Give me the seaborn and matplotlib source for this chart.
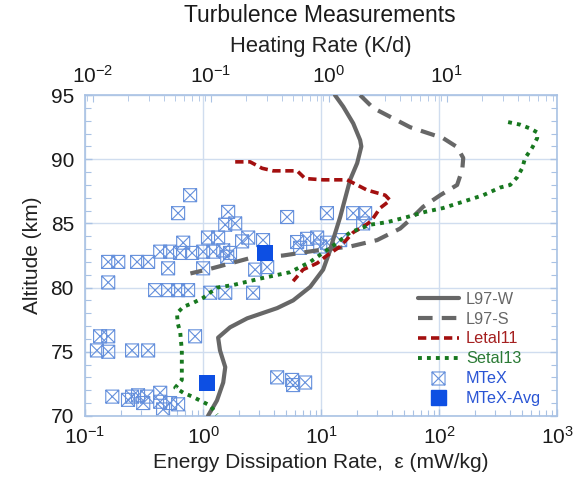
import matplotlib
matplotlib.use("Agg")
import matplotlib.pyplot as plt
import seaborn as sns
import pandas as pd
from matplotlib.path import Path
from matplotlib.lines import Line2D
from matplotlib.ticker import LogLocator, MultipleLocator, NullFormatter, FixedLocator

sns.set_style("white")
plt.rcParams['font.family'] = ['Liberation Sans', 'DejaVu Sans']
plt.rcParams['mathtext.fontset'] = 'custom'
plt.rcParams['mathtext.rm'] = 'Liberation Sans'

# ---- data: energy dissipation rate (mW/kg) vs altitude (km) ----
l97w_eps = [13.1, 15.4, 18.7, 21.4, 21.9, 20.2, 17.6, 14.5, 12.6, 11.9, 10.4, 8.07, 5.79,
            4.24, 2.36, 1.69, 1.34, 1.39, 1.54, 1.48, 1.31, 1.10]
l97w_alt = [95.0, 94.1, 92.8, 91.5, 91.0, 89.7, 88.4, 85.5, 83.7, 82.9, 81.4, 80.05, 79.0,
            78.4, 77.6, 76.9, 76.1, 75.1, 73.8, 72.6, 71.2, 70.0]

l97s_eps = [21.4, 27.6, 56.8, 108, 142, 160, 157, 142, 102, 73.2, 56.8, 46.7, 29.8, 17.6,
            9.25, 4.76, 2.50, 1.19, 0.78]
l97s_alt = [95.0, 94.0, 92.5, 91.65, 90.95, 90.1, 89.2, 88.0, 87.2, 86.3, 85.3, 84.6, 83.7,
            83.2, 82.9, 82.5, 82.3, 81.5, 81.1]

letal_eps = [1.87, 2.50, 3.16, 3.92, 6.26, 7.32, 10.4, 16.6, 24.5, 34.9, 38.4, 31.6, 27.1,
             25.0, 18.7, 14.5, 11.2, 9.25, 7.03, 5.79]
letal_alt = [89.8, 89.8, 89.3, 89.1, 89.1, 88.5, 88.4, 88.4, 87.6, 87.2, 86.8, 86.2, 85.3,
             85.0, 84.3, 83.2, 82.5, 81.9, 81.4, 80.5]

setal_eps = [384, 486, 590, 677, 677, 614, 535, 505, 458, 400, 329, 236, 160, 108, 76, 53.6,
             36.3, 26.0, 17.6, 13.7, 8.07, 5.46, 3.04, 1.80, 1.31, 1.0, 0.82, 0.68, 0.60,
             0.61, 0.64, 0.66, 0.66, 0.66, 0.58, 0.68, 0.81, 0.94, 1.15, 1.31]
setal_alt = [92.9, 92.7, 92.4, 92.1, 91.65, 90.9, 90.1, 89.3, 88.6, 88.0, 87.8, 87.2, 86.7,
             86.2, 85.9, 85.5, 85.1, 84.9, 84.3, 83.5, 82.0, 81.2, 80.7, 80.2, 80.0, 79.2,
             78.8, 78.5, 78.0, 77.2, 76.5, 75.1, 73.6, 72.8, 72.2, 71.8, 71.5, 71.2, 70.8, 70.1]

mtex_eps = [0.776, 0.614, 1.63, 5.15, 11.2, 18.7, 23.6, 22.7, 1.54, 1.87,
            1.10, 1.34, 2.14, 2.41, 3.22, 6.26, 7.61, 9.25, 11.2, 14.5, 0.678, 6.64, 9.82,
            0.433, 0.525, 0.638, 0.807, 1.0, 1.22, 1.48, 1.69, 1.60,
            0.157, 0.191, 0.276, 0.342, 0.505, 1.0, 2.76, 3.49, 0.157,
            0.392, 0.505, 0.614, 0.746, 1.15, 1.54, 2.65,
            0.134, 0.157, 0.126, 0.157, 0.250, 0.342, 0.855,
            0.170, 0.231, 0.281, 0.335, 0.433, 0.433, 0.525, 0.614, 0.458, 0.311, 0.250,
            4.24, 5.68, 5.79, 7.32]
mtex_alt = [87.2, 85.8, 85.9, 85.5, 85.8, 85.8, 85.8, 85.0, 84.9, 85.0,
            83.9, 83.9, 83.6, 83.9, 83.7, 83.55, 83.8, 83.9, 83.5, 83.7, 83.5, 83.1, 83.2,
            82.8, 82.8, 82.7, 82.7, 82.8, 82.8, 82.9, 82.7, 82.4,
            82.0, 82.0, 82.0, 82.0, 81.5, 81.5, 81.4, 81.6, 80.4,
            79.8, 79.8, 79.8, 79.8, 79.6, 79.6, 79.6,
            76.2, 76.2, 75.1, 75.0, 75.1, 75.1, 76.2,
            71.5, 71.25, 71.6, 71.5, 71.8, 71.1, 71.0, 70.9, 70.5, 71.0, 71.5,
            73.0, 72.8, 72.4, 72.6]

avg_eps = [3.35, 1.08]
avg_alt = [82.7, 72.6]

heat_ticks = [0.01, 0.1, 1, 10]

c_gray = '#676767'
c_red = '#a30f0f'
c_green = '#17781f'
c_box = '#6590dc'
c_avg = '#0d4fe3'
c_frame = '#a9c2e4'
c_grid = '#d0ddef'

# box-with-X marker
boxx = Path([(-1, -1), (1, -1), (1, 1), (-1, 1), (-1, -1),
             (-1, -1), (1, 1), (-1, 1), (1, -1)],
            [Path.MOVETO, Path.LINETO, Path.LINETO, Path.LINETO, Path.CLOSEPOLY,
             Path.MOVETO, Path.LINETO, Path.MOVETO, Path.LINETO])

fig = plt.figure(figsize=(5.75, 4.83), dpi=100)
ax = fig.add_subplot(111)
fig.subplots_adjust(left=0.148, right=0.969, bottom=0.139, top=0.803)

sns.scatterplot(x=mtex_eps, y=mtex_alt, marker=boxx, s=88, color=c_box, facecolor='none',
                edgecolor=c_box, linewidth=0.8, ax=ax, zorder=2)
sns.lineplot(x=l97w_eps, y=l97w_alt, sort=False, estimator=None, color=c_gray, lw=3, ax=ax, zorder=3)
sns.lineplot(x=l97s_eps, y=l97s_alt, sort=False, estimator=None, color=c_gray, lw=3,
             dashes=(3.5, 2.2), ax=ax, zorder=3)
sns.lineplot(x=letal_eps, y=letal_alt, sort=False, estimator=None, color=c_red, lw=2.6,
             dashes=(2.3, 1.3), ax=ax, zorder=3)
sns.lineplot(x=setal_eps, y=setal_alt, sort=False, estimator=None, color=c_green, lw=2.8,
             dashes=(1, 1.3), ax=ax, zorder=3)
sns.scatterplot(x=avg_eps, y=avg_alt, marker='s', s=117, color=c_avg, edgecolor=c_avg,
                linewidth=0, ax=ax, zorder=4)

ax.set_xscale('log')
ax.set_xlim(0.1, 1000)
ax.set_ylim(70, 95)
ax.yaxis.set_major_locator(MultipleLocator(5))
ax.yaxis.set_minor_locator(MultipleLocator(1))
ax.xaxis.set_minor_locator(LogLocator(base=10, subs=range(2, 10)))
ax.xaxis.set_minor_formatter(NullFormatter())
ax.grid(True, which='major', color=c_grid, lw=1)
ax.tick_params(which='both', direction='in', colors=c_frame, labelcolor='#1a1a1a',
               labelsize=15, top=False, right=True, left=True, bottom=True)
ax.tick_params(which='major', length=5, width=1)
ax.tick_params(which='minor', length=4, width=0.8)
ax.tick_params(axis='x', pad=7)
ax.tick_params(axis='y', pad=8)
for s in ax.spines.values():
    s.set_color(c_frame)
    s.set_linewidth(1.2)

ax.set_xlabel('Energy Dissipation Rate,  \u03b5 (mW/kg)', fontsize=15, color='#222222', labelpad=4)
ax.set_ylabel('Altitude (km)', fontsize=15, color='#222222', labelpad=6)

# top axis: heating rate (K/d) = eps[mW/kg] * 86400 / 1000 / 1000
sec = ax.secondary_xaxis('top', functions=(lambda e: e * 0.0864, lambda h: h / 0.0864))
sec.xaxis.set_major_locator(FixedLocator(heat_ticks))
sec.xaxis.set_minor_locator(LogLocator(base=10, subs=range(2, 10)))
sec.xaxis.set_minor_formatter(NullFormatter())
sec.tick_params(which='both', direction='in', colors=c_frame, labelcolor='#1a1a1a', labelsize=15, pad=6)
sec.tick_params(which='major', length=5)
sec.tick_params(which='minor', length=4)
sec.spines['top'].set_color(c_frame)
sec.set_xlabel('Heating Rate (K/d)', fontsize=15.8, color='#222222', labelpad=9)

fig.text(0.557, 0.968, 'Turbulence Measurements', ha='center', va='center', fontsize=16.5,
         color='#1a1a1a')

handles = [
    Line2D([], [], color=c_gray, lw=3),
    Line2D([], [], color=c_gray, lw=3, dashes=(3.5, 2.2)),
    Line2D([], [], color=c_red, lw=2.6, dashes=(2.3, 1.3)),
    Line2D([], [], color=c_green, lw=2.8, dashes=(1, 1.3)),
    Line2D([], [], ls='none', marker=boxx, ms=9.4, mfc='none', mec=c_box, mew=0.8),
    Line2D([], [], ls='none', marker='s', ms=10.8, mfc=c_avg, mec=c_avg),
]
labels = ['L97-W', 'L97-S', 'Letal11', 'Setal13', 'MTeX', 'MTeX-Avg']
leg = ax.legend(handles, labels, loc='lower right', bbox_to_anchor=(0.99, -0.005),
                frameon=False, fontsize=11.7, handlelength=2.5, handletextpad=0.45,
                labelspacing=0.3, borderpad=0.2,
                labelcolor=[c_gray, c_gray, '#a52020', '#2a7a35', '#2a55d4', '#2a55d4'])

fig.savefig('out.png', dpi=100)
